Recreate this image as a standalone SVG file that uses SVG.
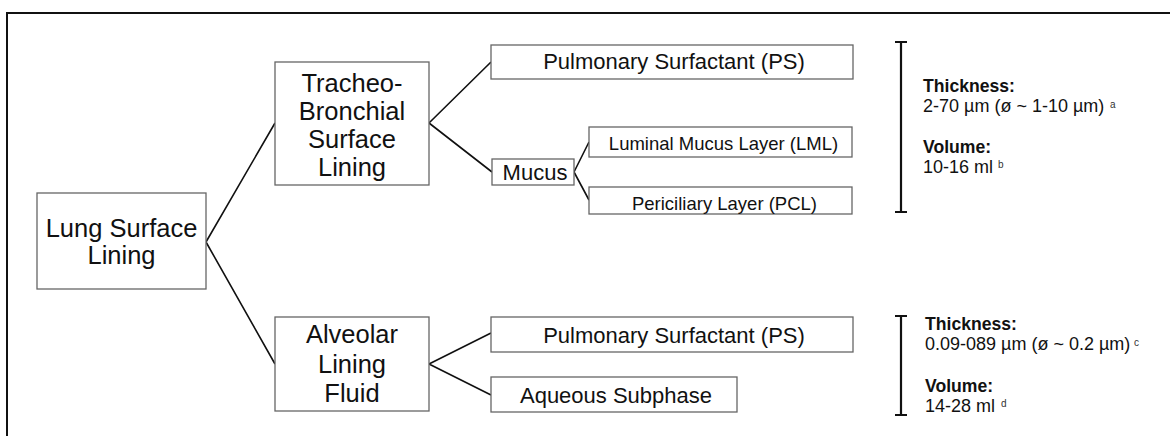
<svg xmlns="http://www.w3.org/2000/svg" width="1170" height="436" viewBox="0 0 1170 436">
<style>
.box{fill:#fff;stroke:#666;stroke-width:1.3}
.t{font-family:"Liberation Sans",Arial,sans-serif;fill:#111;text-anchor:middle}
.big{font-size:25.5px}
.mid{font-size:22px}
.sm{font-size:18.5px}
.i{font-family:"Liberation Sans",Arial,sans-serif;fill:#111;font-size:18px}
.b{font-weight:bold;font-size:17.6px}
.sup{font-family:"Liberation Sans",Arial,sans-serif;fill:#333;font-size:10px}
.ln{stroke:#111;stroke-width:1.6;fill:none}
.br{stroke:#111;stroke-width:2.2;fill:none}
</style>
<rect width="1170" height="436" fill="#fff"/>
<path d="M7,436 V13 H1170" fill="none" stroke="#111" stroke-width="2"/>
<g id="connectors">
<path class="ln" d="M206,242 L275,123 M206,242 L275,364"/>
<path class="ln" d="M429,123 L491,62 M429,123 L492,172"/>
<path class="ln" d="M574,172 L589,142 M574,172 L589,200"/>
<path class="ln" d="M429,364 L491,333 M429,364 L491,395"/>
</g>
<g id="lung">
<rect class="box" x="37" y="193" width="169" height="96"/>
<text class="t big" x="121.5" y="237">Lung Surface</text>
<text class="t big" x="121.5" y="264">Lining</text>
</g>
<g id="tracheo">
<rect class="box" x="275" y="62" width="154" height="123"/>
<text class="t big" x="352" y="92">Tracheo-</text>
<text class="t big" x="352" y="120">Bronchial</text>
<text class="t big" x="352" y="148">Surface</text>
<text class="t big" x="352" y="176">Lining</text>
</g>
<g id="alveolar">
<rect class="box" x="275" y="317" width="154" height="94"/>
<text class="t big" x="352" y="343">Alveolar</text>
<text class="t big" x="352" y="373">Lining</text>
<text class="t big" x="352" y="402">Fluid</text>
</g>
<g id="ps1">
<rect class="box" x="491" y="45" width="362" height="34"/>
<text class="t mid" x="674" y="69">Pulmonary Surfactant (PS)</text>
</g>
<g id="mucus">
<rect class="box" x="492" y="159" width="82" height="26"/>
<text class="t mid" x="535" y="180">Mucus</text>
</g>
<g id="lml">
<rect class="box" x="589" y="127" width="263" height="30"/>
<text class="t sm" x="723.5" y="150">Luminal Mucus Layer (LML)</text>
</g>
<g id="pcl">
<rect class="box" x="589" y="187" width="263" height="27"/>
<text class="t sm" x="724.5" y="210">Periciliary Layer (PCL)</text>
</g>
<g id="ps2">
<rect class="box" x="491" y="317" width="362" height="35"/>
<text class="t mid" x="674" y="343">Pulmonary Surfactant (PS)</text>
</g>
<g id="aqueous">
<rect class="box" x="491" y="377" width="246" height="35"/>
<text class="t mid" x="616" y="403">Aqueous Subphase</text>
</g>
<g id="info1">
<path class="br" d="M901,42 V212 M895,42 H907 M895,212 H907"/>
<text class="i b" x="923" y="92">Thickness:</text>
<text class="i" x="923" y="112">2-70 µm (ø ~ 1-10 µm)</text>
<text class="sup" x="1110" y="108">a</text>
<text class="i b" x="923" y="153">Volume:</text>
<text class="i" x="923" y="173">10-16 ml</text>
<text class="sup" x="998" y="168">b</text>
</g>
<g id="info2">
<path class="br" d="M901,316 V415 M895,316 H907 M895,415 H907"/>
<text class="i b" x="925" y="330">Thickness:</text>
<text class="i" x="925" y="350">0.09-089 µm (ø ~ 0.2 µm)</text>
<text class="sup" x="1134" y="346">c</text>
<text class="i b" x="925" y="392">Volume:</text>
<text class="i" x="925" y="412">14-28 ml</text>
<text class="sup" x="1001" y="407">d</text>
</g>
</svg>
